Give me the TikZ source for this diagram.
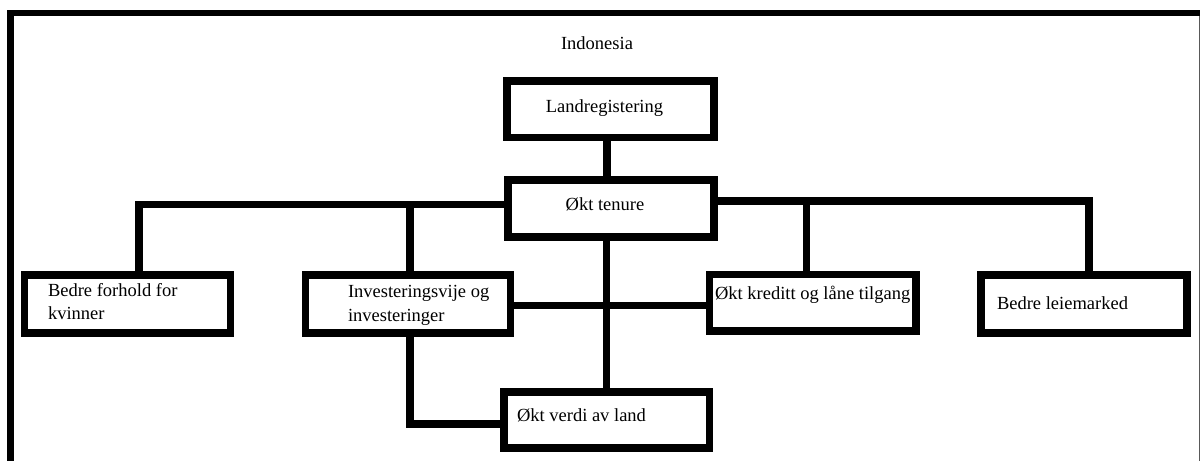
\documentclass[tikz,border=0pt]{standalone}
\usepackage{fontspec}
\setmainfont{Liberation Serif}
\newfontfamily\tnrfont{Liberation Serif}
\usetikzlibrary{calc}
\begin{document}
\begin{tikzpicture}[x=1pt,y=-1pt,
  box/.style={draw, line width=7.5pt, rectangle, inner sep=0pt, outer sep=0pt},
  txt/.style={inner sep=0pt, outer sep=0pt, font=\tnrfont\fontsize{18.5}{23}\selectfont},
  conn/.style={line width=7.5pt}]
\useasboundingbox (0,0) rectangle (1200,461);
% frame
\fill (6.5,10) rectangle (1200,16);
\fill (6.5,10) rectangle (14,461);
\fill[black!65] (1198.5,16) rectangle (1199.8,461);
% boxes
\node[box, minimum width=207pt, minimum height=56.5pt] (lr) at (610.5,109.25) {};
\node[box, minimum width=206pt, minimum height=57pt] (ot) at (611,208.5) {};
\node[box, minimum width=206pt, minimum height=58pt] (bf) at (127.5,304) {};
\node[box, minimum width=205pt, minimum height=58pt] (inv) at (408,304) {};
\node[box, minimum width=206.5pt, minimum height=56.5pt] (kr) at (812.75,302.75) {};
\node[box, minimum width=206pt, minimum height=58pt] (bl) at (1084,304) {};
\node[box, minimum width=205.5pt, minimum height=56pt] (ov) at (606.75,420) {};
% texts
\node[txt, anchor=base] (title) at (597,49) {Indonesia};
\node[txt, anchor=base] (tlr) at (604.5,112) {Landregistering};
\node[txt, anchor=base] (tot) at (605,210) {Økt tenure};
\node[txt, anchor=base west] (tbf1) at (48,296) {Bedre forhold for};
\node[txt, anchor=base west] (tbf2) at (48,319) {kvinner};
\node[txt, anchor=base west] (tinv1) at (348,297) {Investeringsvije og};
\node[txt, anchor=base west] (tinv2) at (348,321) {investeringer};
\node[txt, anchor=base west] (tkr) at (715,299) {Økt kreditt og låne tilgang};
\node[txt, anchor=base west] (tbl) at (997,309) {Bedre leiemarked};
\node[txt, anchor=base west] (tov) at (517,421) {Økt verdi av land};
% connectors
\draw[conn] ([xshift=-3.5pt]lr.south) -- ([xshift=-3.5pt]lr.south |- ot.north);
\draw[conn] ([yshift=4pt]ot.west) -| ([xshift=11.5pt]bf.north);
\draw[conn] ([xshift=2pt]inv.north) |- ([yshift=4pt]ot.west);
\draw[conn] ([yshift=7.5pt]ot.east) -| ([xshift=5pt]bl.north);
\draw[conn] ([xshift=-6.25pt]kr.north) |- ([yshift=7.5pt]ot.east);
\draw[conn] ([xshift=-4.5pt]ot.south) -- ([xshift=-4.5pt]ot.south |- ov.north);
\draw[conn] ([yshift=-1.5pt]inv.east) -- ([yshift=-1.5pt]inv.east -| kr.west);
\draw[conn] ([xshift=2pt]inv.south) |- ([yshift=-4pt]ov.west);
\end{tikzpicture}
\end{document}
